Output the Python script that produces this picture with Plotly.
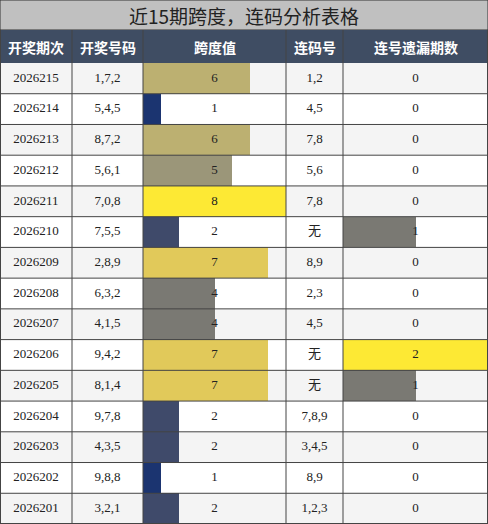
import plotly.graph_objects as go

# data
title = "近15期跨度，连码分析表格"
headers = ["开奖期次", "开奖号码", "跨度值", "连码号", "连号遗漏期数"]
issues = ["2026215", "2026214", "2026213", "2026212", "2026211", "2026210", "2026209", "2026208",
          "2026207", "2026206", "2026205", "2026204", "2026203", "2026202", "2026201"]
draws = ["1,7,2", "5,4,5", "8,7,2", "5,6,1", "7,0,8", "7,5,5", "2,8,9", "6,3,2",
         "4,1,5", "9,4,2", "8,1,4", "9,7,8", "4,3,5", "9,8,8", "3,2,1"]
spans = [6, 1, 6, 5, 8, 2, 7, 4, 4, 7, 7, 2, 2, 1, 2]
consec = ["1,2", "4,5", "7,8", "5,6", "7,8", "无", "8,9", "2,3", "4,5", "无", "无", "7,8,9", "3,4,5", "8,9", "1,2,3"]
missed = [0, 0, 0, 0, 0, 1, 0, 0, 0, 2, 1, 0, 0, 0, 0]

span_colors = {1: "#1b3470", 2: "#3f4a6a", 4: "#7a7973", 5: "#9b9679", 6: "#bcb071", 7: "#e1c95a", 8: "#fde934"}
miss_colors = {1: "#7a7973", 2: "#fde934"}

# layout geometry (pixels)
W, H = 488, 524
col_x = [0, 72, 143, 286, 343, 488]
title_h, head_h = 30, 33
row_h = (H - title_h - head_h) / len(issues)
row_y = [title_h + head_h + i * row_h for i in range(len(issues))]
span_max, miss_max = 8, 2

fig = go.Figure()

# row backgrounds
fig.add_trace(go.Bar(
    orientation="h", y=[y + row_h / 2 for y in row_y], x=[W] * len(issues), base=0,
    width=row_h, marker=dict(color=["#f4f4f4" if i % 2 == 0 else "#ffffff" for i in range(len(issues))], line_width=0),
    hoverinfo="skip"))

# span bars
span_w = col_x[3] - col_x[2]
fig.add_trace(go.Bar(
    orientation="h", y=[y + row_h / 2 for y in row_y], x=[v / span_max * span_w for v in spans], base=col_x[2],
    width=row_h, marker=dict(color=[span_colors[v] for v in spans], line_width=0), hoverinfo="skip"))

# missed bars
miss_w = col_x[5] - col_x[4]
fig.add_trace(go.Bar(
    orientation="h", y=[y + row_h / 2 for y in row_y], x=[v / miss_max * miss_w for v in missed], base=col_x[4],
    width=row_h, marker=dict(color=[miss_colors.get(v, "#ffffff") for v in missed], line_width=0), hoverinfo="skip"))

# cell texts
font = dict(family="Liberation Serif, Noto Sans CJK SC", size=13, color="#222222")
columns = [issues, draws, [str(v) for v in spans], consec, [str(v) for v in missed]]
for c, vals in enumerate(columns):
    fig.add_trace(go.Scatter(
        x=[(col_x[c] + col_x[c + 1]) / 2] * len(vals), y=[y + row_h / 2 for y in row_y],
        mode="text", text=vals, textfont=font, hoverinfo="skip"))

shapes = [
    dict(type="rect", x0=0, x1=W, y0=0, y1=title_h, fillcolor="#c0c0c0", line=dict(color="#333333", width=1), layer="below"),
    dict(type="rect", x0=0, x1=W, y0=title_h, y1=title_h + head_h, fillcolor="#3f4d63", line_width=0, layer="below"),
]
for y in row_y[1:] + [H - 0.5]:
    shapes.append(dict(type="line", x0=0, x1=W, y0=y, y1=y, line=dict(color="#444444", width=1)))
for x in col_x[1:-1] + [0.5, W - 0.5]:
    shapes.append(dict(type="line", x0=x, x1=x, y0=title_h, y1=H, line=dict(color="#444444", width=1)))

annotations = [dict(x=W / 2, y=title_h / 2, text=title, showarrow=False,
                    font=dict(family="Noto Sans CJK SC", size=19, color="#222222"))]
for c, h in enumerate(headers):
    annotations.append(dict(x=(col_x[c] + col_x[c + 1]) / 2, y=title_h + head_h / 2, text="<b>" + h + "</b>",
                            showarrow=False, font=dict(family="Noto Sans CJK SC", size=14, color="#ffffff")))

fig.update_layout(
    width=W, height=H, margin=dict(l=0, r=0, t=0, b=0), showlegend=False,
    barmode="overlay", bargap=0, plot_bgcolor="#ffffff", paper_bgcolor="#ffffff",
    xaxis=dict(range=[0, W], visible=False, fixedrange=True),
    yaxis=dict(range=[H, 0], visible=False, fixedrange=True),
    shapes=shapes, annotations=annotations)

fig.write_html("out.html", config={"displayModeBar": False},
               post_script="document.body.style.margin='0';document.body.style.overflow='hidden';")
